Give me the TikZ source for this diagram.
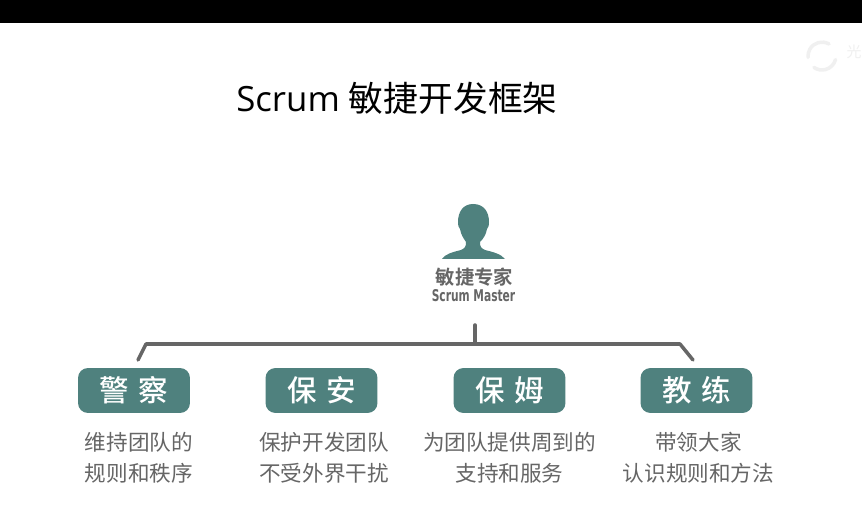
\documentclass[tikz,border=0pt]{standalone}
\usepackage{fontspec}
\setmainfont{Open Sans}
\newfontfamily\cjk{Noto Sans CJK SC}
\newfontfamily\cjkm{Noto Sans CJK SC Medium}
\newfontfamily\cjkb{Noto Sans CJK SC Bold}
\newfontfamily\latinb{DejaVu Sans}
\usetikzlibrary{calc}
\begin{document}
\begin{tikzpicture}[x=0.02cm, y=-0.02cm, line cap=round]
\definecolor{tealR}{HTML}{4F817E}
\definecolor{grayT}{HTML}{666666}
\definecolor{lineG}{HTML}{666666}
\tikzset{
  rolebox/.style={fill=tealR, rounded corners=0.2cm, minimum width=2.24cm, minimum height=0.9cm,
    inner sep=0pt, text=white, font=\cjkm\fontsize{16.8}{18}\selectfont},
  roletext/.style={align=center, text=grayT, inner sep=0pt, font=\cjk\fontsize{12.3}{17.6}\selectfont},
  rule/.style={lineG, line width=2pt, line join=round}
}
\useasboundingbox (0,0) rectangle (862,530);
% ---- background ----
\fill[white] (0,0) rectangle (862,530);
\fill[black] (0,0) rectangle (862,23);
% ---- watermark ----
\draw[black!6, line width=2pt] (829,44) arc (-60:-185:14);
\draw[black!6, line width=2pt] (835.5,59.6) arc (15:125:14);
\node[text=black!6, font=\cjk\fontsize{8.5}{9}\selectfont, inner sep=0pt] (mark) at (854,52) {光};
% ---- title ----
\node[inner sep=0pt, font=\fontsize{19.8}{24}\selectfont] (title) at (397,98) {Scrum {\cjk 敏捷开发框架}};
% ---- person ----
\fill[tealR] (473,204) .. controls (463,204) and (458,212) .. (458,222)
  .. controls (458,226) and (459,228) .. (460,229)
  .. controls (461,235) and (464,239) .. (466,242)
  .. controls (466,247) and (465,248) .. (461,250)
  .. controls (453,252) and (445,254) .. (442,259)
  -- (505,259)
  .. controls (501,254) and (493,252) .. (485,250)
  .. controls (481,248) and (480,247) .. (480,242)
  .. controls (483,239) and (486,235) .. (487,229)
  .. controls (488,228) and (489,226) .. (489,222)
  .. controls (489,212) and (484,204) .. (473,204) -- cycle;
\node[text=grayT, inner sep=0pt, font=\cjkb\fontsize{11}{13}\selectfont] (master) at (474.5,277) {敏捷专家};
\node[text=grayT, inner sep=0pt, xscale=0.66, font=\latinb\bfseries\fontsize{9.2}{11}\selectfont] (masterEn) at (473.5,296) {Scrum Master};
% ---- roles ----
\node[rolebox] (police) at (134,390.5) {警\,\,察};
\node[rolebox] (guard) at (321.5,390.5) {保\,\,安};
\node[rolebox] (nanny) at (509.5,390.5) {保\,\,姆};
\node[rolebox] (coach) at (696.5,390.5) {教\,\,练};
\node[roletext] (policeT) at (139,458) {维持团队的\\规则和秩序};
\node[roletext] (guardT) at (324,458) {保护开发团队\\不受外界干扰};
\node[roletext] (nannyT) at (509.5,458) {为团队提供周到的\\支持和服务};
\node[roletext] (coachT) at (698.5,458) {带领大家\\认识规则和方法};
% ---- tree ----
\coordinate (stem) at (475,325);
\coordinate (hub) at (475,344);
\coordinate (kneeL) at (146,344);
\coordinate (kneeR) at (680,344);
\coordinate (endL) at (138,360);
\coordinate (endR) at (693,360);
\draw[rule] (stem) -- (hub);
\draw[rule] (endL) -- (kneeL) -- (hub) -- (kneeR) -- (endR);
\end{tikzpicture}
\end{document}
